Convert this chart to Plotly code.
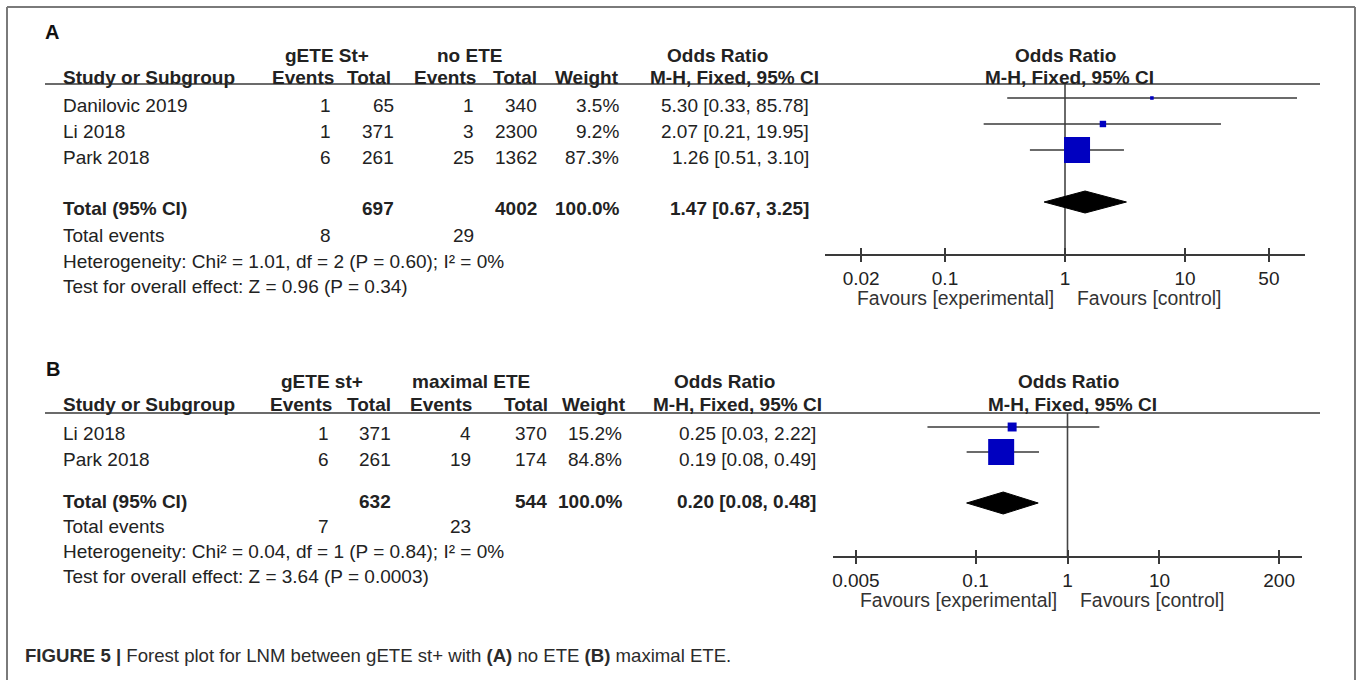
import plotly.graph_objects as go

# ---------------- data ----------------
# Panel A: gETE St+ vs no ETE
studies_a = ["Danilovic 2019", "Li 2018", "Park 2018"]
exp_events_a = [1, 1, 6]
exp_total_a = [65, 371, 261]
ctl_events_a = [1, 3, 25]
ctl_total_a = [340, 2300, 1362]
weight_a = [3.5, 9.2, 87.3]
or_a = [5.30, 2.07, 1.26]
lo_a = [0.33, 0.21, 0.51]
hi_a = [85.78, 19.95, 3.10]
pooled_a = [1.47, 0.67, 3.25]
sum_total_a = [697, 4002]
sum_events_a = [8, 29]
het_a = "Heterogeneity: Chi² = 1.01, df = 2 (P = 0.60); I² = 0%"
test_a = "Test for overall effect: Z = 0.96 (P = 0.34)"
ticks_a = [0.02, 0.1, 1, 10, 50]
ticklabels_a = ["0.02", "0.1", "1", "10", "50"]

# Panel B: gETE st+ vs maximal ETE
studies_b = ["Li 2018", "Park 2018"]
exp_events_b = [1, 6]
exp_total_b = [371, 261]
ctl_events_b = [4, 19]
ctl_total_b = [370, 174]
weight_b = [15.2, 84.8]
or_b = [0.25, 0.19]
lo_b = [0.03, 0.08]
hi_b = [2.22, 0.49]
pooled_b = [0.20, 0.08, 0.48]
sum_total_b = [632, 544]
sum_events_b = [7, 23]
het_b = "Heterogeneity: Chi² = 0.04, df = 1 (P = 0.84); I² = 0%"
test_b = "Test for overall effect: Z = 3.64 (P = 0.0003)"
ticks_b = [0.005, 0.1, 1, 10, 200]
ticklabels_b = ["0.005", "0.1", "1", "10", "200"]

# ---------------- layout helpers ----------------
W, H = 1357, 680
FONT = "Liberation Sans, Arial, Helvetica, sans-serif"
TXT = "#222222"
LINE = "#3a3a3a"
BLUE = "#0000c0"
FS = 19


def px(x):
    return x / W


def py(y):
    return 1 - y / H


annotations = []
shapes = []


def text(x, y, s, anchor="left", bold=False, size=FS, color=TXT):
    annotations.append(dict(
        x=px(x), y=py(y), xref="paper", yref="paper",
        text=f"<b>{s}</b>" if bold else s,
        xanchor=anchor, yanchor="middle", showarrow=False,
        font=dict(family=FONT, size=size, color=color),
    ))


def hline(x0, x1, y, color=LINE, width=1.6):
    shapes.append(dict(type="line", xref="paper", yref="paper",
                       x0=px(x0), x1=px(x1), y0=py(y), y1=py(y),
                       line=dict(color=color, width=width)))


def vline(x, y0, y1, color="#7a7a7a", width=2):
    shapes.append(dict(type="line", xref="paper", yref="paper",
                       x0=px(x), x1=px(x), y0=py(y0), y1=py(y1),
                       line=dict(color=color, width=width)))


def fmt_ci(o, l, h):
    return f"{o:.2f} [{l:.2f}, {h:.2f}]"


def build_panel(fig, p):
    xa, ya, xo = p["xaxis"], p["yaxis"], p["xover"]

    # ---- table text ----
    text(p["label_x"], p["label_y"], p["label"], bold=True, size=20, color="#111")
    h1, h2 = p["head1_y"], p["head2_y"]
    c = p["cols"]
    text(p["exp_center"], h1, p["exp_name"], "center", True)
    text(p["ctl_center"], h1, p["ctl_name"], "center", True)
    text(p["or_center"], h1, "Odds Ratio", "center", True)
    text(p["plot_center"], h1, "Odds Ratio", "center", True)

    text(c["study"], h2, "Study or Subgroup", bold=True)
    text(p["hdr"]["ev_exp"], h2, "Events", "right", True)
    text(p["hdr"]["tot_exp"], h2, "Total", "right", True)
    text(p["hdr"]["ev_ctl"], h2, "Events", "right", True)
    text(p["hdr"]["tot_ctl"], h2, "Total", "right", True)
    text(p["hdr"]["wt"], h2, "Weight", "right", True)
    text(p["hdr"]["ci"], h2, "M-H, Fixed, 95% CI", "right", True)
    text(p["plot_center"] + 4, h2, "M-H, Fixed, 95% CI", "center", True)
    hline(45, 1320, p["rule_y"])

    for i, name in enumerate(p["studies"]):
        y = p["row_y"][i]
        text(c["study"], y, name)
        text(c["ev_exp"], y, str(p["exp_events"][i]), "right")
        text(c["tot_exp"], y, str(p["exp_total"][i]), "right")
        text(c["ev_ctl"], y, str(p["ctl_events"][i]), "right")
        text(c["tot_ctl"], y, str(p["ctl_total"][i]), "right")
        text(c["wt"], y, f"{p['weight'][i]:.1f}%", "right")
        text(c["ci"], y, fmt_ci(p["or"][i], p["lo"][i], p["hi"][i]), "right")

    ty = p["total_y"]
    text(c["study"], ty, "Total (95% CI)", bold=True)
    text(c["tot_exp"], ty, str(p["sum_total"][0]), "right", True)
    text(c["tot_ctl"], ty, str(p["sum_total"][1]), "right", True)
    text(c["wt"] + 1, ty, f"{sum(p['weight']):.1f}%", "right", True)
    text(c["ci"], ty, fmt_ci(*p["pooled"]), "right", True)

    ey = p["events_y"]
    text(c["study"], ey, "Total events")
    text(c["ev_exp"], ey, str(p["sum_events"][0]), "right")
    text(c["ev_ctl"], ey, str(p["sum_events"][1]), "right")
    text(c["study"], p["het_y"], p["het"])
    text(c["study"], p["test_y"], p["test"])

    # ---- forest plot ----
    # line of no effect
    fig.add_trace(go.Scatter(x=[1, 1], y=[p["rule_y"], p["axis_y"]], mode="lines",
                             xaxis=xa, yaxis=ya, line=dict(color="#454545", width=1.6),
                             hoverinfo="skip", showlegend=False))

    ci_x, ci_y = [], []
    for i in range(len(p["studies"])):
        yy = p["mark_y"][i]
        ci_x += [p["lo"][i], p["hi"][i], None]
        ci_y += [yy, yy, None]
    fig.add_trace(go.Scatter(x=ci_x, y=ci_y, mode="lines", xaxis=xa, yaxis=ya,
                             line=dict(color=LINE, width=1.7),
                             hoverinfo="skip", showlegend=False))

    wmax = max(p["weight"])
    sizes = [26 * (w / wmax) ** 0.62 for w in p["weight"]]
    fig.add_trace(go.Scatter(x=p["or"], y=p["mark_y"], mode="markers", xaxis=xa, yaxis=ya,
                             opacity=1,
                             marker=dict(symbol="square", size=sizes, color=BLUE,
                                         opacity=1, line=dict(width=0)),
                             showlegend=False))

    po, pl, ph = p["pooled"]
    dy, half = p["diamond_y"], 11
    fig.add_trace(go.Scatter(x=[pl, po, ph, po, pl], y=[dy, dy - half, dy, dy + half, dy],
                             mode="lines", fill="toself", fillcolor="#000000",
                             line=dict(color="#000000", width=1), xaxis=xa, yaxis=ya,
                             hoverinfo="skip", showlegend=False))

    # invisible trace so the overlay axis (upward tick marks) is drawn
    fig.add_trace(go.Scatter(x=[1], y=[p["diamond_y"]], mode="markers", xaxis=xo, yaxis=ya,
                             marker=dict(opacity=0), hoverinfo="skip", showlegend=False))

    # favours labels under the axis
    for s, anchor, shift in (("Favours [experimental]", "right", -9),
                             ("Favours [control]", "left", 10)):
        annotations.append(dict(x=0, y=py(p["favours_y"]), xref=xa, yref="paper",
                                text=s, xanchor=anchor, yanchor="middle", xshift=shift,
                                showarrow=False,
                                font=dict(family=FONT, size=19.4, color="#333")))


fig = go.Figure()

panel_a = dict(
    xaxis="x", xover="x3", yaxis="y", label="A", label_x=43, label_y=32,
    head1_y=55, head2_y=77, rule_y=84, axis_y=254,
    exp_name="gETE St+", ctl_name="no ETE", exp_center=327, ctl_center=469,
    or_center=717, plot_center=1065,
    cols=dict(study=61, ev_exp=333, tot_exp=396, ev_ctl=476, tot_ctl=539, wt=621, ci=811),
    hdr=dict(ev_exp=336, tot_exp=393, ev_ctl=478, tot_ctl=539, wt=621, ci=821),
    studies=studies_a, exp_events=exp_events_a, exp_total=exp_total_a,
    ctl_events=ctl_events_a, ctl_total=ctl_total_a, weight=weight_a,
    lo=lo_a, hi=hi_a, pooled=pooled_a,
    sum_total=sum_total_a, sum_events=sum_events_a, het=het_a, test=test_a,
    row_y=[105, 131, 157], mark_y=[98, 124, 150], diamond_y=202,
    total_y=208, events_y=235, het_y=261, test_y=286, favours_y=298,
)
panel_a["or"] = or_a

panel_b = dict(
    xaxis="x2", xover="x4", yaxis="y2", label="B", label_x=44, label_y=369,
    head1_y=381, head2_y=404, rule_y=413, axis_y=556,
    exp_name="gETE st+", ctl_name="maximal ETE", exp_center=322, ctl_center=471,
    or_center=724, plot_center=1068,
    cols=dict(study=61, ev_exp=331, tot_exp=393, ev_ctl=473, tot_ctl=549, wt=624, ci=818),
    hdr=dict(ev_exp=334, tot_exp=393, ev_ctl=474, tot_ctl=550, wt=628, ci=824),
    studies=studies_b, exp_events=exp_events_b, exp_total=exp_total_b,
    ctl_events=ctl_events_b, ctl_total=ctl_total_b, weight=weight_b,
    lo=lo_b, hi=hi_b, pooled=pooled_b,
    sum_total=sum_total_b, sum_events=sum_events_b, het=het_b, test=test_b,
    row_y=[434, 459], mark_y=[427, 452], diamond_y=503,
    total_y=501, events_y=526, het_y=551, test_y=576, favours_y=600,
)
panel_b["or"] = or_b

build_panel(fig, panel_a)
build_panel(fig, panel_b)


def log_axis(domain, rng, ticks, labels, side_ticks, anchor, overlay=None):
    ax = dict(type="log", range=rng, domain=domain, anchor=anchor,
              tickvals=ticks, ticktext=labels, ticks=side_ticks, ticklen=6,
              tickwidth=1.6, tickcolor=LINE, showgrid=False, zeroline=False,
              fixedrange=True,
              tickfont=dict(family=FONT, size=FS, color=TXT))
    if overlay:
        ax.update(overlaying=overlay, showline=False, showticklabels=False, side="bottom")
    else:
        ax.update(showline=True, linecolor=LINE, linewidth=1.6)
    return ax


dom_a = [px(825), px(1305)]
dom_b = [px(833), px(1302)]
rng_a = [-2, 2]
rng_b = [-2.55, 2.55]

# frame around the figure (open at the bottom)
hline(7, 1355, 7, color="#7a7a7a", width=2)
vline(7, 7, 680)
vline(1355, 7, 680)

annotations.append(dict(
    x=px(23), y=py(655), xref="paper", yref="paper", xanchor="left", yanchor="middle",
    showarrow=False,
    text="<b>FIGURE 5 |</b> Forest plot for LNM between gETE st+ with <b>(A)</b> no ETE "
         "<b>(B)</b> maximal ETE.",
    font=dict(family=FONT, size=18.6, color="#2b2b2b"),
))

fig.update_layout(
    width=W, height=H, margin=dict(l=0, r=0, t=0, b=0),
    paper_bgcolor="white", plot_bgcolor="rgba(0,0,0,0)",
    showlegend=False,
    xaxis=log_axis(dom_a, rng_a, ticks_a, ticklabels_a, "outside", "y"),
    xaxis3=log_axis(dom_a, rng_a, ticks_a, ticklabels_a, "inside", "y", overlay="x"),
    xaxis2=log_axis(dom_b, rng_b, ticks_b, ticklabels_b, "outside", "y2"),
    xaxis4=log_axis(dom_b, rng_b, ticks_b, ticklabels_b, "inside", "y2", overlay="x2"),
    yaxis=dict(domain=[py(254), py(84)], range=[254, 84], visible=False, fixedrange=True),
    yaxis2=dict(domain=[py(556), py(413)], range=[556, 413], visible=False, fixedrange=True),
    annotations=annotations, shapes=shapes,
)

fig.write_html("out.html")
